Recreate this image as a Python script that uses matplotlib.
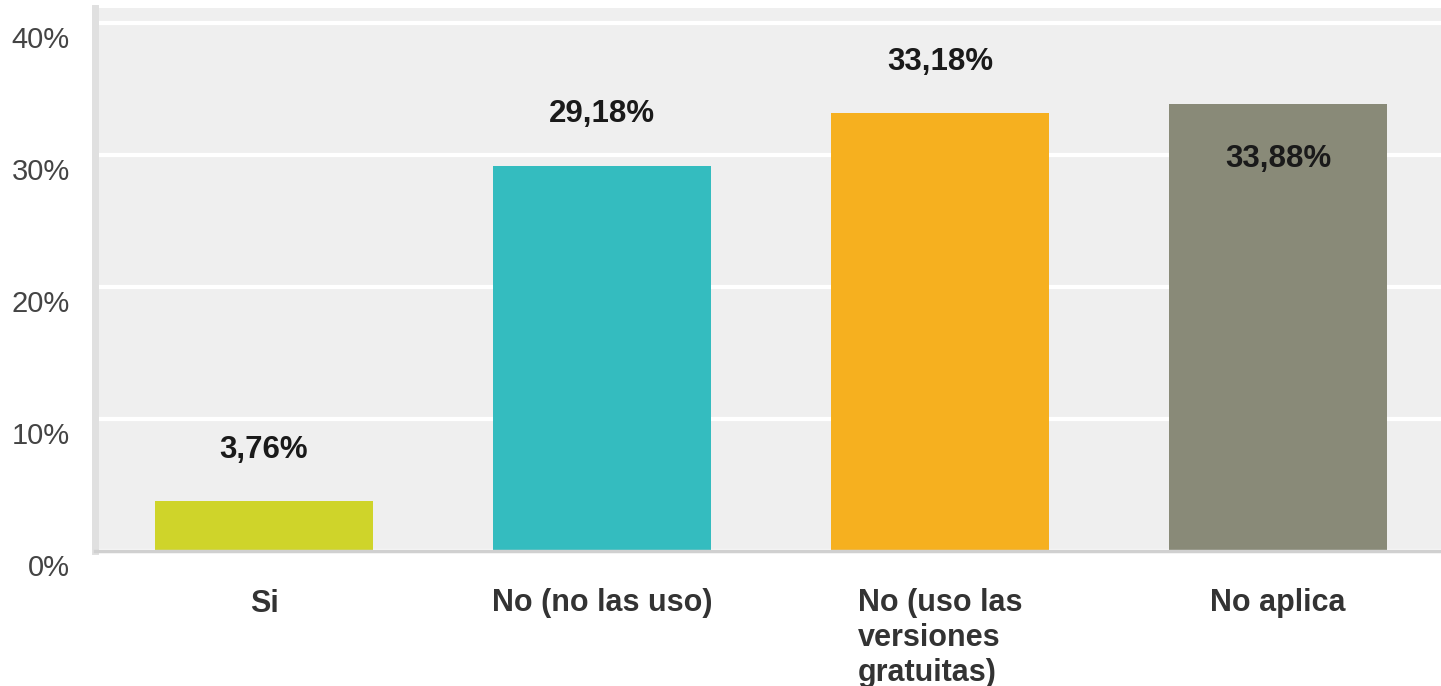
import matplotlib.pyplot as plt
from matplotlib.transforms import ScaledTranslation

categorias = ['Si', 'No (no las uso)', 'No (uso las\nversiones\ngratuitas)', 'No aplica']
valores = [3.76, 29.18, 33.18, 33.88]
rotulos = ['3,76%', '29,18%', '33,18%', '33,88%']
cores = ['#cfd42a', '#34bcbf', '#f6b01f', '#898a78']
yticks = [0, 10, 20, 30, 40]
ytick_labels = ['0%', '10%', '20%', '30%', '40%']

plt.rcParams['font.family'] = ['Liberation Sans', 'DejaVu Sans']

fig = plt.figure(figsize=(14.41, 6.86), dpi=100)
ax = fig.add_axes([95 / 1441, 1 - 551 / 686, (1447 - 95) / 1441, 543 / 686])
ax.set_facecolor('#efefef')

x = range(len(categorias))
ax.bar(x, valores, width=0.644, color=cores, zorder=3)

# rotulos dos valores: acima da barra, menos o ultimo que fica dentro
for i, (v, r) in enumerate(zip(valores, rotulos)):
    dy = -40 if i == len(valores) - 1 else 37
    ax.annotate(r, (i, v), xytext=(0, dy), textcoords='offset points',
                ha='center', va='center', fontsize=22.5, fontweight='bold',
                color='#1a1a1a', zorder=4)

ax.set_xlim(-0.5, 3.5)
ax.set_ylim(0, 41.14)
ax.set_yticks(yticks)
ax.set_yticklabels(ytick_labels, fontsize=21, color='#444444')
ax.yaxis.grid(True, color='white', linewidth=3, zorder=1)
ax.tick_params(axis='y', length=0, pad=18)
offset = ScaledTranslation(0, -14 / 100, fig.dpi_scale_trans)
for lab in ax.get_yticklabels():
    lab.set_transform(lab.get_transform() + offset)

ax.set_xticks(list(x))
ax.set_xticklabels(categorias, fontsize=22, fontweight='bold', color='#333333',
                   multialignment='left', linespacing=1.2)
ax.tick_params(axis='x', length=0, pad=27)

for s in ['top', 'right']:
    ax.spines[s].set_visible(False)
ax.spines['left'].set_color('#e0e0e0')
ax.spines['left'].set_linewidth(5)
ax.spines['bottom'].set_color('#d0d0d0')
ax.spines['bottom'].set_linewidth(2.5)
ax.spines['bottom'].set_zorder(5)

fig.savefig('out.png', dpi=100)
